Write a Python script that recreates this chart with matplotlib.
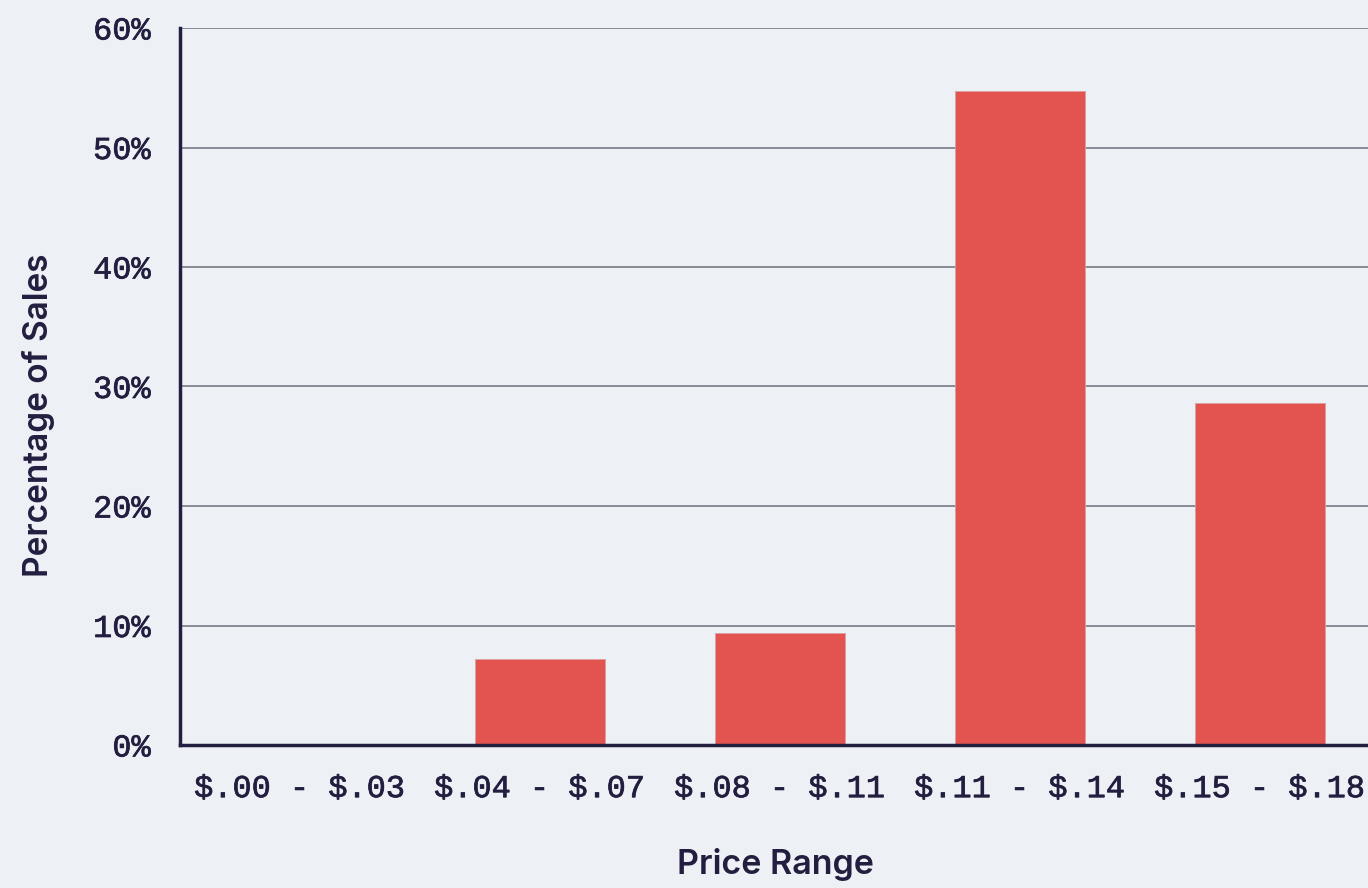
import numpy as np
import matplotlib.pyplot as plt
import matplotlib.patheffects as pe

plt.rcParams["text.parse_math"] = False

price_ranges = ["$.00 - $.03", "$.04 - $.07", "$.08 - $.11", "$.11 - $.14", "$.15 - $.18"]
pct_sales = [0.0, 7.2, 9.4, 54.7, 28.6]
y_ticks = [0, 10, 20, 30, 40, 50, 60]

bg = "#edf0f4"
ink = "#221e3f"
bar_color = "#e3534f"

fig = plt.figure(figsize=(13.68, 8.88), dpi=100, facecolor=bg)
ax = fig.add_axes([180 / 1368, 143 / 888, 1200 / 1368, 717 / 888])
ax.set_facecolor(bg)

x = np.arange(len(price_ranges))
ax.bar(x, pct_sales, width=0.545, color=bar_color, edgecolor="#d9a09e", linewidth=0.6, zorder=3)

ax.set_xlim(-0.5, 4.5)
ax.set_ylim(0, 60)
ax.set_yticks(y_ticks)
ax.set_yticklabels([f"{t}%" for t in y_ticks])
ax.set_xticks(x)
ax.set_xticklabels(price_ranges)

ax.grid(axis="y", color="#80838f", linewidth=1.3, zorder=1)
ax.tick_params(length=0)
ax.tick_params(axis="y", pad=21)
ax.tick_params(axis="x", pad=21)
# regular mono with a thin stroke, a bit heavier than regular but lighter than bold
thicken = [pe.withStroke(linewidth=0.5, foreground=ink)]
for lab in ax.get_xticklabels() + ax.get_yticklabels():
    lab.set_family(["Liberation Mono", "DejaVu Sans Mono"])
    lab.set_fontsize(23)
    lab.set_color(ink)
    lab.set_path_effects(thicken)

for s in ["top", "right"]:
    ax.spines[s].set_visible(False)
ax.spines["left"].set_color(ink)
ax.spines["left"].set_linewidth(2.5)
ax.spines["bottom"].set_color(ink)
ax.spines["bottom"].set_linewidth(2.5)
ax.spines["bottom"].set_zorder(4)

ax.set_xlabel("Price Range", family="Inter", fontsize=24.5, fontweight="semibold", color=ink, va="center")
ax.set_ylabel("Percentage of Sales", family="Inter", fontsize=24, fontweight="semibold", color=ink, va="center")
ax.xaxis.set_label_coords(0.496, -0.167)
ax.yaxis.set_label_coords(-0.118, 0.46)

fig.savefig("out.png", dpi=100, facecolor=bg)
